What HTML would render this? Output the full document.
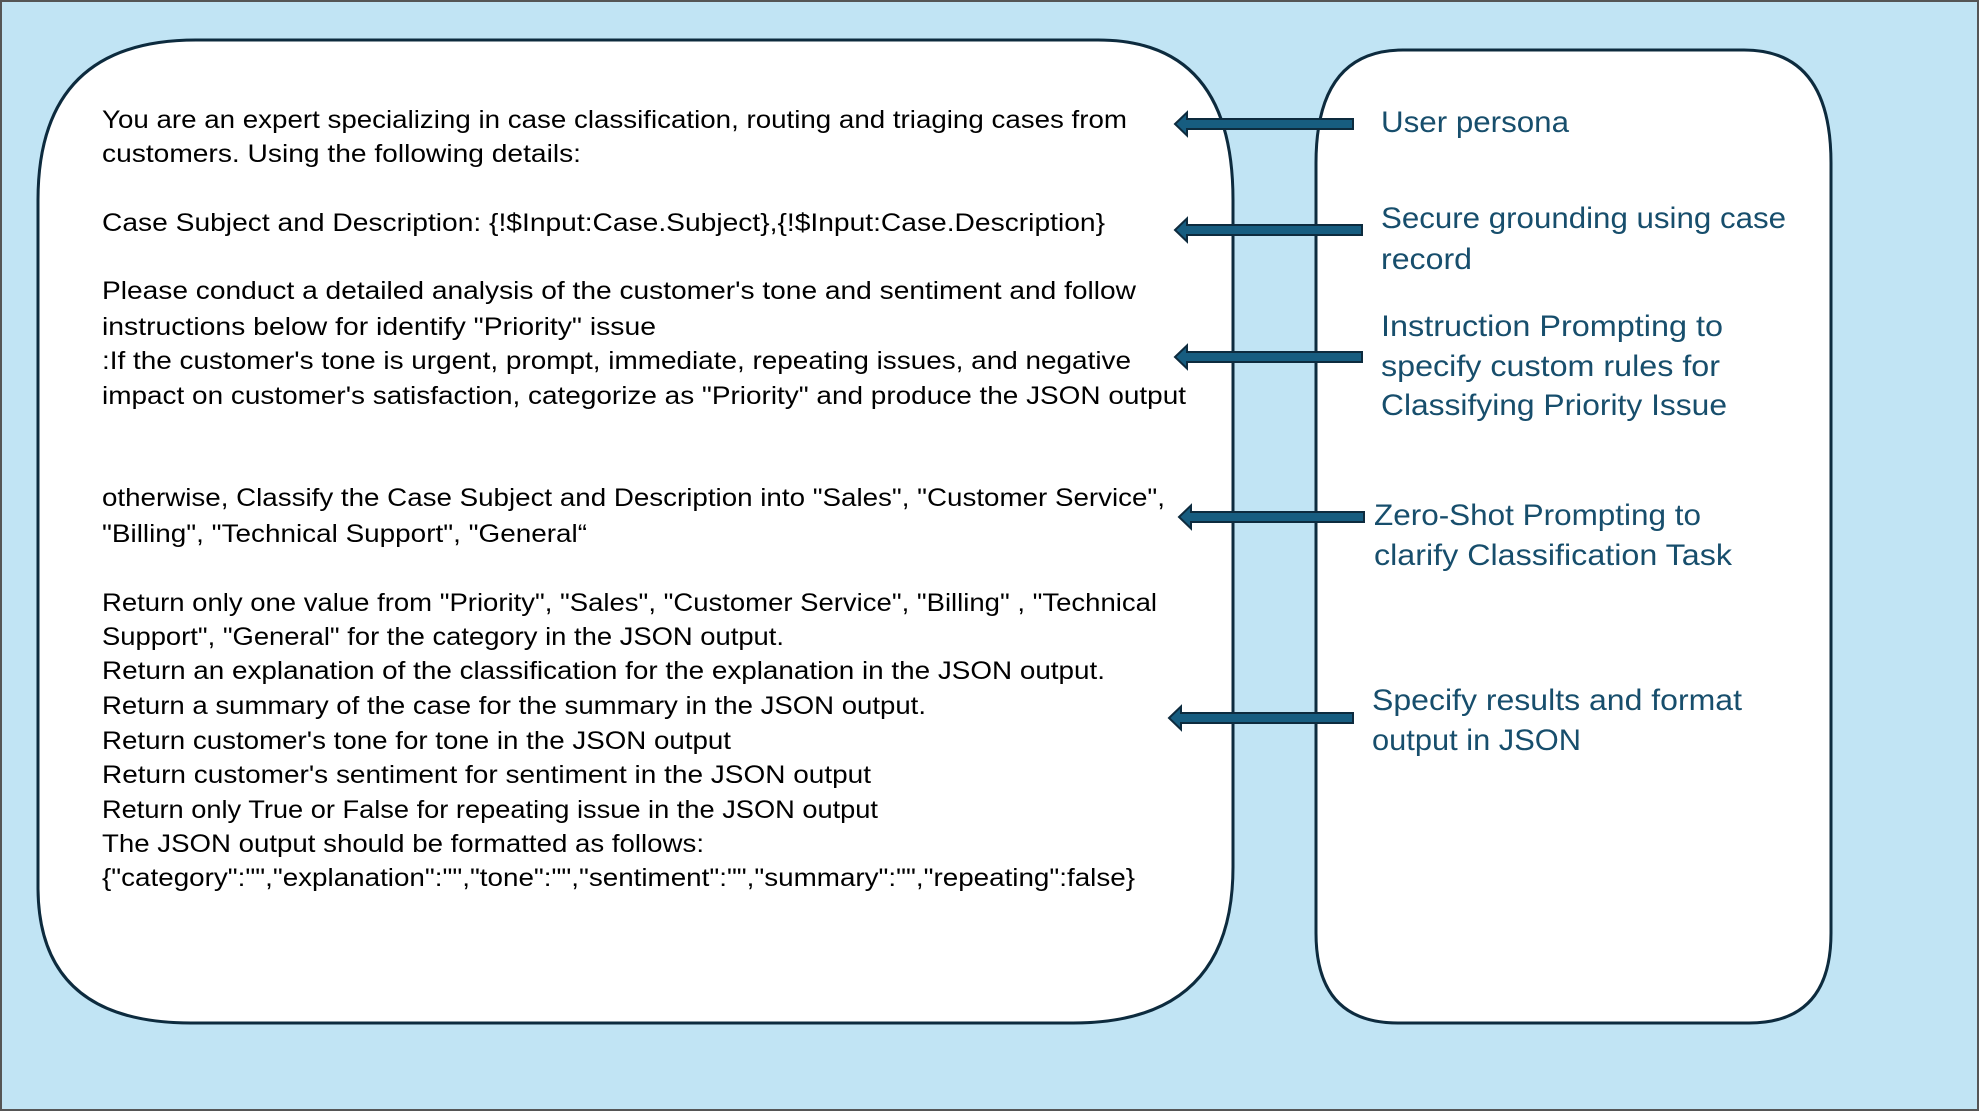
<!DOCTYPE html>
<html><head><meta charset="utf-8"><style>
html,body{margin:0;padding:0;background:#c1e4f4;}
svg{display:block}
</style></head><body>
<svg width="1979" height="1111" viewBox="0 0 1979 1111" xmlns="http://www.w3.org/2000/svg">
<rect x="0" y="0" width="1979" height="1111" fill="#c1e4f4"/>
<rect x="1" y="1" width="1977" height="1109" fill="none" stroke="#555" stroke-width="2"/>
<!-- left box -->
<path d="M196 40 H1098 Q1233 40 1233 200 V867 Q1233 1023 1073 1023 H191 Q38 1023 38 887 V200 Q38 40 196 40 Z" fill="#fff" stroke="#0d2b3e" stroke-width="3"/>
<!-- right box -->
<path d="M1403 50 H1744 Q1831 50 1831 163 V933 Q1831 1023 1749 1023 H1398 Q1316 1023 1316 933 V163 Q1316 50 1403 50 Z" fill="#fff" stroke="#0d2b3e" stroke-width="3"/>
<g fill="#175d80" stroke="#0d2b3e" stroke-width="2">
<polygon points="1175,124 1187,112.5 1187,119 1353,119 1353,129 1187,129 1187,135.5"/>
<polygon points="1175,230 1187,218.5 1187,225 1362,225 1362,235 1187,235 1187,241.5"/>
<polygon points="1175,357 1187,345.5 1187,352 1362,352 1362,362 1187,362 1187,368.5"/>
<polygon points="1179,517 1191,505.5 1191,512 1364,512 1364,522 1191,522 1191,528.5"/>
<polygon points="1169,718 1181,706.5 1181,713 1353,713 1353,723 1181,723 1181,729.5"/>
</g>
<g font-family="Liberation Sans, sans-serif" font-size="25" fill="#000" lengthAdjust="spacingAndGlyphs">
<text x="102" y="128" textLength="1025" lengthAdjust="spacingAndGlyphs">You are an expert specializing in case classification, routing and triaging cases from</text>
<text x="102" y="162" textLength="479" lengthAdjust="spacingAndGlyphs">customers. Using the following details:</text>
<text x="102" y="231" textLength="1003" lengthAdjust="spacingAndGlyphs">Case Subject and Description: {!$Input:Case.Subject},{!$Input:Case.Description}</text>
<text x="102" y="299" textLength="1034" lengthAdjust="spacingAndGlyphs">Please conduct a detailed analysis of the customer's tone and sentiment and follow</text>
<text x="102" y="335" textLength="554" lengthAdjust="spacingAndGlyphs">instructions below for identify "Priority" issue</text>
<text x="102" y="369" textLength="1029" lengthAdjust="spacingAndGlyphs">:If the customer's tone is urgent, prompt, immediate, repeating issues, and negative</text>
<text x="102" y="404" textLength="1084" lengthAdjust="spacingAndGlyphs">impact on customer's satisfaction, categorize as "Priority" and produce the JSON output</text>
<text x="102" y="506" textLength="1063" lengthAdjust="spacingAndGlyphs">otherwise, Classify the Case Subject and Description into "Sales", "Customer Service",</text>
<text x="102" y="542" textLength="485" lengthAdjust="spacingAndGlyphs">"Billing", "Technical Support", "General“</text>
<text x="102" y="611" textLength="1055" lengthAdjust="spacingAndGlyphs">Return only one value from "Priority", "Sales", "Customer Service", "Billing" , "Technical</text>
<text x="102" y="645" textLength="682" lengthAdjust="spacingAndGlyphs">Support", "General" for the category in the JSON output.</text>
<text x="102" y="679" textLength="1003" lengthAdjust="spacingAndGlyphs">Return an explanation of the classification for the explanation in the JSON output.</text>
<text x="102" y="714" textLength="824" lengthAdjust="spacingAndGlyphs">Return a summary of the case for the summary in the JSON output.</text>
<text x="102" y="749" textLength="629" lengthAdjust="spacingAndGlyphs">Return customer's tone for tone in the JSON output</text>
<text x="102" y="783" textLength="769" lengthAdjust="spacingAndGlyphs">Return customer's sentiment for sentiment in the JSON output</text>
<text x="102" y="818" textLength="776" lengthAdjust="spacingAndGlyphs">Return only True or False for repeating issue in the JSON output</text>
<text x="102" y="852" textLength="602" lengthAdjust="spacingAndGlyphs">The JSON output should be formatted as follows:</text>
<text x="102" y="886" textLength="1033" lengthAdjust="spacingAndGlyphs">{"category":"","explanation":"","tone":"","sentiment":"","summary":"","repeating":false}</text>
</g>
<g font-family="Liberation Sans, sans-serif" font-size="30" fill="#174e6c">
<text x="1381" y="132" textLength="188" lengthAdjust="spacingAndGlyphs">User persona</text>
<text x="1381" y="228" textLength="405" lengthAdjust="spacingAndGlyphs">Secure grounding using case</text>
<text x="1381" y="269" textLength="91" lengthAdjust="spacingAndGlyphs">record</text>
<text x="1381" y="336" textLength="342" lengthAdjust="spacingAndGlyphs">Instruction Prompting to</text>
<text x="1381" y="376" textLength="339" lengthAdjust="spacingAndGlyphs">specify custom rules for</text>
<text x="1381" y="415" textLength="346" lengthAdjust="spacingAndGlyphs">Classifying Priority Issue</text>
<text x="1374" y="525" textLength="327" lengthAdjust="spacingAndGlyphs">Zero-Shot Prompting to</text>
<text x="1374" y="565" textLength="358" lengthAdjust="spacingAndGlyphs">clarify Classification Task</text>
<text x="1372" y="710" textLength="370" lengthAdjust="spacingAndGlyphs">Specify results and format</text>
<text x="1372" y="750" textLength="209" lengthAdjust="spacingAndGlyphs">output in JSON</text>
</g>
</svg>
</body></html>
